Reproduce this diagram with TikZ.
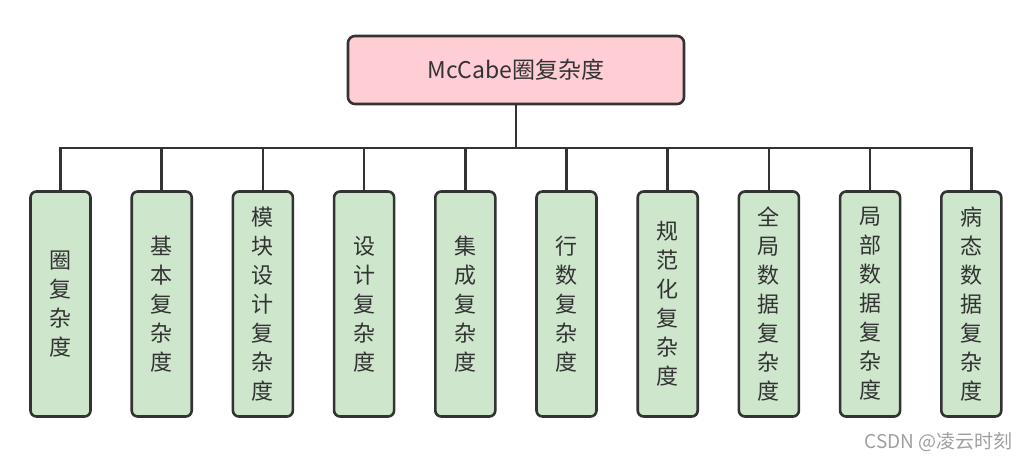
\documentclass[tikz,border=0pt]{standalone}
\usepackage{fontspec}
\setmainfont{Noto Sans CJK SC}
\usepackage{xcolor}
\usepackage{tikz}
\usetikzlibrary{positioning}

\definecolor{rootpink}{HTML}{FFCDD4}
\definecolor{leafgreen}{HTML}{CDE6CC}
\definecolor{edgegray}{HTML}{333333}
\definecolor{textgray}{HTML}{333333}

\begin{document}
\begin{tikzpicture}[
    x=1pt, y=1pt,
    node distance=0pt and 38.6pt,
    root/.style={
        rectangle, draw=edgegray, fill=rootpink, line width=2.6pt,
        rounded corners=7pt, minimum width=336pt, minimum height=68pt,
        text=textgray, font=\fontsize{23}{27}\selectfont
    },
    leaf/.style={
        rectangle, draw=edgegray, fill=leafgreen, line width=2.6pt,
        rounded corners=6pt, minimum width=60pt, minimum height=225pt,
        align=center, inner sep=0pt, text=textgray,
        font=\fontsize{22}{29}\selectfont
    },
    line/.style={draw=edgegray, line width=2.6pt}
]
    \useasboundingbox (0,0) rectangle (1030,-460);

    \node [root] (mccabe) at (516,-70) {McCabe圈复杂度};

    \node [leaf] (quan) at (60.5,-304) {圈\\复\\杂\\度};
    \node [leaf, right=of quan] (jiben) {基\\本\\复\\杂\\度};
    \node [leaf, right=of jiben] (mokuai) {模\\块\\设\\计\\复\\杂\\度};
    \node [leaf, right=of mokuai] (sheji) {设\\计\\复\\杂\\度};
    \node [leaf, right=of sheji] (jicheng) {集\\成\\复\\杂\\度};
    \node [leaf, right=of jicheng] (hangshu) {行\\数\\复\\杂\\度};
    \node [leaf, right=of hangshu] (guifan) {规\\范\\化\\复\\杂\\度};
    \node [leaf, right=of guifan] (quanju) {全\\局\\数\\据\\复\\杂\\度};
    \node [leaf, right=of quanju] (jubu) {局\\部\\数\\据\\复\\杂\\度};
    \node [leaf, right=of jubu] (bingtai) {病\\态\\数\\据\\复\\杂\\度};

    \node [anchor=base east, text=gray!75, font=\fontsize{19}{22}\selectfont]
        (mark) at (1016,-448) {CSDN @凌云时刻};

    \coordinate (bus) at (mccabe.south |- 0,-148);
    \path [line] (mccabe.south) -- (bus);
    \path [line] (bus) -| (quan.north);
    \path [line] (bus) -| (jiben.north);
    \path [line] (bus) -| (mokuai.north);
    \path [line] (bus) -| (sheji.north);
    \path [line] (bus) -| (jicheng.north);
    \path [line] (bus) -| (hangshu.north);
    \path [line] (bus) -| (guifan.north);
    \path [line] (bus) -| (quanju.north);
    \path [line] (bus) -| (jubu.north);
    \path [line] (bus) -| (bingtai.north);
\end{tikzpicture}
\end{document}
